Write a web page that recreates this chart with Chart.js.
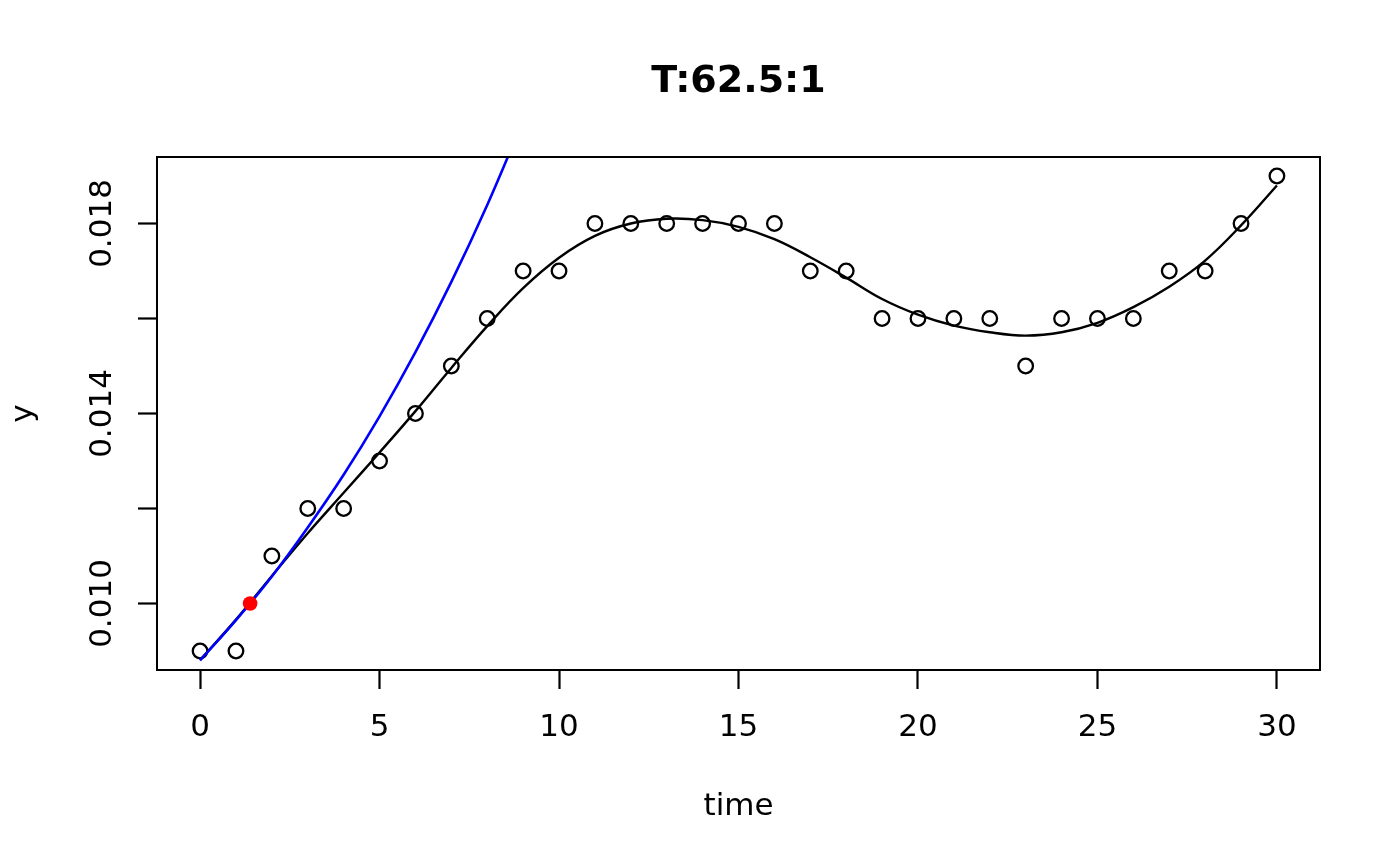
<!DOCTYPE html>
<html><head><meta charset="utf-8">
<script src="https://cdn.jsdelivr.net/npm/chart.js@4/dist/chart.umd.min.js"></script>
<style>html,body{margin:0;padding:0;background:#fff}#wrap{width:1400px;height:866px}</style>
</head><body><div id="wrap"><canvas id="c" width="1400" height="866"></canvas></div>
<script>
// observed points
const time = [0,1,2,3,4,5,6,7,8,9,10,11,12,13,14,15,16,17,18,19,20,21,22,23,24,25,26,27,28,29,30];
const observed = [0.009,0.009,0.011,0.012,0.012,0.013,0.014,0.015,0.016,0.017,0.017,0.018,0.018,0.018,0.018,0.018,0.018,0.017,0.017,0.016,0.016,0.016,0.016,0.015,0.016,0.016,0.016,0.017,0.017,0.018,0.019];
// smooth fitted curve (black)
const fitTime = [0,1,2,3,4,5,6,7,8,9,10,11,12,13,14,15,16,17,18,19,20,21,22,23,24,25,26,27,28,29,30];
const fitted = [0.00881,0.00966,0.01058,0.01148,0.01233,0.01318,0.01405,0.01496,0.01584,0.01664,0.01728,0.01774,0.01800,0.01810,0.01807,0.01793,0.01767,0.01729,0.01686,0.01641,0.01608,0.01585,0.01571,0.01564,0.01571,0.01591,0.01624,0.01667,0.01722,0.01796,0.01880];
// tangent growth curve (blue)
const tangentTime = [0,1,2,3,4,5,6,7,8,9];
const tangent = [0.00880,0.00965,0.01057,0.01160,0.01271,0.01394,0.01529,0.01677,0.01839,0.02017];
// highlighted point (red)
const markerTime = [1.394];
const marker = [0.0100];
// axes
const xTicks = [0,5,10,15,20,25,30];
const yTicks = [0.010,0.012,0.014,0.016,0.018];
const yTickLabels = ['0.010','','0.014','','0.018'];

const FONT = 'DejaVu Sans';
const pts = (xs, ys) => xs.map((x, i) => ({x: x, y: ys[i]}));

const boxPlugin = {
  id: 'box',
  afterDatasetsDraw(chart) {
    const {ctx, chartArea: a} = chart;
    ctx.save();
    ctx.strokeStyle = '#000';
    ctx.lineWidth = 2;
    ctx.strokeRect(a.left, a.top, a.right - a.left, a.bottom - a.top);
    ctx.restore();
  }
};

new Chart(document.getElementById('c'), {
  type: 'scatter',
  data: {
    datasets: [
      {data: pts(markerTime, marker), pointRadius: 7.3, pointBackgroundColor: '#ff0000', pointBorderWidth: 0, showLine: false, order: 0},
      {data: pts(tangentTime, tangent), showLine: true, borderColor: '#0000ff', backgroundColor: '#0000ff', borderWidth: 2.6, pointRadius: 0, tension: 0.4, order: 1},
      {data: pts(fitTime, fitted), showLine: true, borderColor: '#000', backgroundColor: '#000', borderWidth: 2.4, pointRadius: 0, tension: 0.4, order: 2},
      {data: pts(time, observed), showLine: false, pointRadius: 7.3, pointBorderWidth: 2.3, pointBorderColor: '#000', pointBackgroundColor: 'rgba(0,0,0,0)', order: 3}
    ]
  },
  options: {
    responsive: false,
    animation: false,
    devicePixelRatio: 1,
    layout: {padding: {left: 0, right: 80, top: 0, bottom: 0}},
    plugins: {
      legend: {display: false},
      tooltip: {enabled: false},
      title: {display: true, fullSize: false, text: 'T:62.5:1', color: '#000',
        font: {family: FONT, size: 38, weight: 'bold'}, padding: {top: 59, bottom: 52.4}}
    },
    scales: {
      x: {
        type: 'linear', min: -1.2, max: 31.2,
        afterBuildTicks: s => { s.ticks = xTicks.map(v => ({value: v})); },
        afterFit: s => { s.height = 196; },
        border: {display: false},
        grid: {display: true, drawOnChartArea: false, drawTicks: true, tickLength: 19, tickWidth: 2.2, tickColor: '#000'},
        ticks: {color: '#000', font: {family: FONT, size: 31}, padding: 20, maxRotation: 0, callback: v => String(v)},
        title: {display: true, text: 'time', color: '#000', font: {family: FONT, size: 31}, padding: {top: 0, bottom: 40}}
      },
      y: {
        type: 'linear', min: 0.0086, max: 0.0194,
        afterBuildTicks: s => { s.ticks = yTicks.map(v => ({value: v})); },
        afterFit: s => { s.width = 157; },
        border: {display: false},
        grid: {display: true, drawOnChartArea: false, drawTicks: true, tickLength: 19, tickWidth: 2.2, tickColor: '#000'},
        ticks: {color: '#000', font: {family: FONT, size: 31}, padding: -9, minRotation: 90, maxRotation: 90, crossAlign: 'center',
          callback: (v, i) => yTickLabels[i]},
        title: {display: true, text: 'y', color: '#000', font: {family: FONT, size: 31}, padding: {top: 5, bottom: 0}}
      }
    }
  },
  plugins: [boxPlugin]
});
</script>
</body></html>
